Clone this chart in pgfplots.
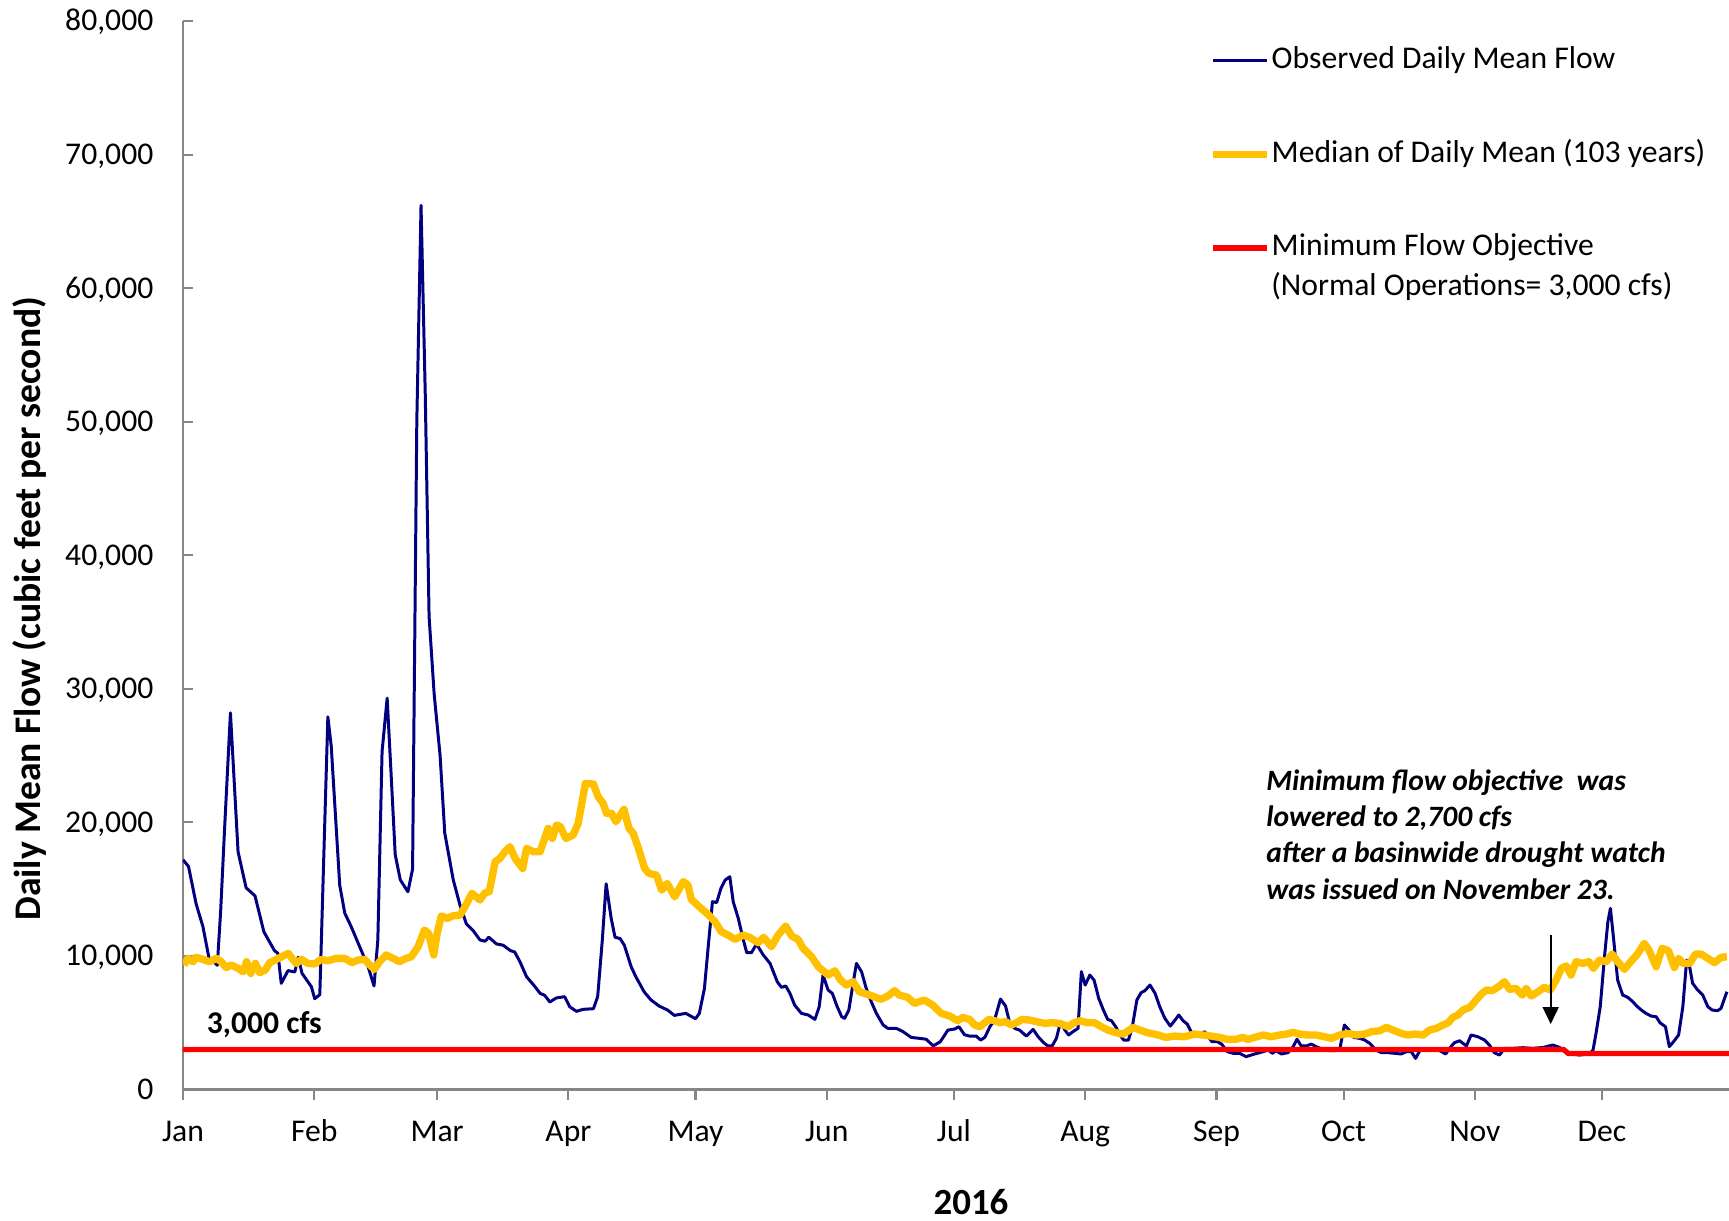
\documentclass[border=0pt]{standalone}
\usepackage{fontspec}
\setmainfont{Carlito}
\usepackage{pgfplots}
\usepackage{pgfplotstable}
\pgfplotsset{compat=1.18}
\usetikzlibrary{arrows.meta}
\definecolor{obsblue}{RGB}{0,0,128}
\definecolor{medyellow}{RGB}{255,192,0}
\definecolor{axgray}{RGB}{134,134,134}

\pgfplotstableread{
day flow
0 17200
1.3 16700
3.1 13900
4.7 12200
6.1 9900
8.1 9300
8.9 13400
9.8 19400
11.2 28200
13 17800
14.9 15100
17 14500
19.1 11800
21.6 10400
22.4 10200
23.2 7950
24.8 8900
26.4 8800
27.2 9900
28.1 8700
30.3 7700
31.1 6800
32.3 7100
33.4 19200
34.2 27900
35 25700
37 15300
38.2 13200
39.7 12200
41.7 10700
43.7 9200
45.1 7750
46 11200
47 25300
48.2 29300
49.2 23200
50.1 17600
51.3 15700
53.1 14800
54.2 16500
55.2 50000
56.2 66200
57.2 52000
58.1 35400
59.3 29600
60.7 25000
61.8 19200
63.8 15700
65.4 13800
66.9 12400
68.5 11900
70.1 11200
71.3 11100
72.2 11400
74.0 10900
75.6 10800
77.3 10400
78.3 10300
79.5 9600
81.1 8450
83.1 7700
84.3 7200
85.4 7050
86.6 6550
88.1 6850
90.1 6950
91.3 6200
92.9 5850
94.4 6000
96.9 6050
97.9 6950
99.0 11200
99.9 15400
101.1 12800
102.0 11400
103.2 11300
104.2 10800
105.8 9200
106.9 8450
108.9 7300
110.5 6700
112.4 6250
114.4 5950
116 5550
118.7 5700
121.0 5300
121.9 5700
123.1 7550
124.0 10700
125.0 14060
126.0 14000
127.0 15060
128.0 15680
129.1 15930
129.9 14060
131.1 12810
132.3 11190
133.1 10240
134.2 10240
135.4 10890
137 10070
138.6 9440
140.3 8070
141.3 7650
142.3 7750
143.3 7200
144.4 6320
146.0 5700
147.6 5580
149.2 5250
150.2 6200
151.1 8570
152.3 7450
153.3 7200
154.3 6320
155.5 5450
156.2 5330
157.2 5950
158.2 7950
159.0 9440
160.2 8820
161.3 7570
162.5 6570
163.7 5700
165.3 4830
166.4 4580
168.4 4580
170 4330
171.9 3900
173.9 3830
175.5 3760
177.1 3260
178.8 3580
180.6 4450
182.2 4530
183.2 4700
184.5 4100
185.7 4000
187.3 4000
188.3 3700
189.3 3900
190.5 4700
191.6 5200
193.0 6770
194.2 6250
195.2 4950
196.4 4570
197.5 4450
199.1 4000
200.7 4500
201.9 3950
203.2 3500
204.2 3260
205.2 3260
206.2 3830
207.2 5080
208.2 4450
209.1 4080
210.1 4330
211.3 4570
212.1 8820
213.0 7820
214.1 8570
215.1 8190
216.2 6820
217.3 5950
218.3 5250
219.2 5150
220.2 4700
221.2 4080
222.1 3700
223.2 3700
224.1 4650
225.2 6700
226.2 7250
227.1 7400
228.3 7820
229.5 7200
230.6 6200
231.8 5330
233.1 4750
234.1 5150
235.1 5580
236.1 5150
237.1 4900
238.0 4330
239.1 3950
240.0 4080
241.2 4330
242.9 3580
244.2 3580
245.2 3400
246.6 2830
248.1 2700
249.5 2700
251.0 2460
253.0 2660
255.0 2830
256.2 2960
257.2 2710
258.1 2910
259.3 2660
260.9 2760
262.1 3210
263.0 3760
264.0 3260
265.2 3260
266.4 3400
267.5 3210
269.1 3010
270.7 2910
272.1 2910
273.1 3010
274.2 4830
275.3 4450
276.4 3900
277.8 3830
279.0 3700
280.2 3450
281.6 2960
282.9 2760
284.5 2760
286.0 2710
287.6 2660
288.8 2830
290.0 2830
291.0 2330
292.1 2960
293.5 3010
295.1 2960
296.7 2910
298.1 2660
299.0 3080
300.2 3510
301.4 3650
303.0 3260
304.1 4080
305.7 3950
307.3 3700
308.5 3300
309.6 2750
310.8 2580
312.0 3080
314.0 3080
316.3 3130
318.7 3080
321.1 3150
323.4 3330
325.0 3150
326.2 2830
327.7 2660
329.7 2580
332.1 2660
332.9 2960
333.6 4200
334.6 6200
335.6 9940
336.4 12560
337.0 13560
337.7 11440
338.7 8200
339.9 7070
341.1 6900
342.3 6570
343.2 6250
344.5 5900
345.4 5700
346.6 5500
347.8 5450
348.7 5000
350.0 4700
350.9 3210
351.9 3580
353.1 4080
354.1 6200
355.0 9690
355.7 9190
356.4 7950
357.6 7450
358.8 7070
360.0 6200
361.0 5950
362.3 5900
363.1 6070
364.5 7320
}\observed

\pgfplotstableread{
day flow
0.2 9320
1.2 9820
2.4 9570
3.1 9900
4.7 9740
6.3 9570
7.9 9820
9.0 9570
10.2 9140
11.4 9320
13 9070
14.2 8820
15 9570
16 8690
17.1 9440
18.1 8750
19.4 8940
20.5 9500
22 9740
23.6 9990
24.9 10190
26 9690
26.8 9440
27.9 9740
29.5 9440
31.1 9400
32.6 9740
34.2 9640
36.2 9820
38.2 9820
39.9 9500
41.3 9690
42.9 9740
44.1 9320
45.2 9000
46.4 9570
48 10070
49.6 9820
51.1 9570
52.7 9820
53.9 9940
55.5 10690
57.0 11940
58 11690
59.2 10070
60 11690
61 13000
62.4 12810
63.8 13010
65.4 13060
66.6 13690
68.2 14690
70.1 14190
71.3 14730
72.3 14810
73.7 17050
74.8 17300
76.0 17800
77.2 18180
78.4 17300
80.2 16550
81.1 18050
82.7 17800
84.3 17800
86.2 19550
87.2 18800
88.2 19800
89.1 19670
90.4 18800
92.1 19050
93.3 19920
95.0 22920
96.9 22870
98.0 21920
99.2 21420
100 20670
101.2 20670
102.2 20050
104.1 20970
105.3 19550
106.3 19170
107.4 18180
109.0 16550
110.0 16180
111.8 16050
113.0 14930
114.3 15430
116.1 14430
118.1 15560
119.2 15310
120.0 14240
122.0 13650
124.0 13100
125.6 12560
127.1 11810
128.7 11560
130.3 11240
132.3 11560
133.8 11390
135.8 10990
137.1 11390
138.9 10690
140.5 11560
142.3 12240
143.7 11490
145.2 11240
146.4 10570
148.4 9940
150.0 9190
152.3 8570
153.9 8890
155.1 8250
156.6 7820
158.2 8070
159.7 7320
162.1 7070
164.8 6750
166.4 7000
168.0 7400
169.1 7070
171.1 6900
172.7 6450
175.0 6700
177.0 6320
179.0 5700
181.0 5500
182.9 5150
184.1 5400
185.7 5250
186.9 4830
188.1 4700
189.3 5000
190.2 5250
191.6 5150
192.8 5000
194.2 5080
195.6 4830
196.8 5000
198.1 5250
199.9 5200
201.5 5080
203.5 4950
205.0 5000
207.0 4950
209.0 4700
210.1 4950
211.7 5150
213.6 5000
215.2 5000
216.8 4700
218.4 4450
220.3 4250
221.9 4150
222.9 4330
224.3 4650
225.9 4450
227.8 4250
230.2 4080
232.1 3900
234.1 4000
236.4 3950
238.8 4150
240.8 4080
242.7 4000
244.7 3900
246.6 3750
248.5 3750
250.2 3900
251.4 3750
253.0 3900
255.0 4080
256.9 3950
258.9 4080
260.5 4150
262.1 4280
263.6 4150
265.6 4080
267.5 4080
269.5 3950
271.1 3830
273.1 4080
275.0 4200
277.0 4080
279.0 4150
280.6 4330
282.5 4400
284.1 4650
285.7 4450
287.6 4200
289.2 4080
290.8 4150
292.8 4080
294.3 4450
295.9 4580
297.5 4830
298.7 5000
299.8 5400
301.0 5580
302.2 5950
303.8 6150
305.3 6700
306.7 7200
307.8 7450
309.1 7400
310.6 7700
312.0 8070
313.2 7500
314.7 7570
316.2 7070
317.1 7570
318.3 7000
319.9 7320
321.4 7650
322.8 7450
324.2 8200
325.4 9070
326.6 9250
327.7 8570
328.9 9570
330.5 9440
331.9 9570
333.0 9070
334.4 9690
336.0 9570
337.4 10140
338.7 9570
340.3 9000
341.8 9570
343.4 10140
345.0 10940
346.1 10440
347.8 9190
349.2 10570
350.7 10390
352.1 9140
353.1 9820
354.2 9440
355.7 9440
357.1 10140
358.4 10140
360.0 9820
361.6 9500
363.1 9890
364.5 9940
}\median

\pgfplotstableread{
day flow
0 3000
326 3000
327 2700
365 2700
}\minflow

\begin{document}
\begin{tikzpicture}
\path[use as bounding box] (-18.3mm,-13.15mm) rectangle (154.6mm,108.95mm);
\begin{axis}[
  at={(0,0)}, anchor=south west,
  scale only axis, width=154.6mm, height=106.85mm,
  xmin=0, xmax=365, ymin=0, ymax=80000,
  axis lines*=left,
  axis line style={axgray, line width=0.6pt},
  every tick/.style={axgray, line width=0.6pt},
  major tick length=1mm,
  xtick align=outside, ytick align=inside,
  xtick={0,31,60,91,121,152,182,213,244,274,305,335},
  xticklabels={Jan,Feb,Mar,Apr,May,Jun,Jul,Aug,Sep,Oct,Nov,Dec},
  ytick={0,10000,20000,30000,40000,50000,60000,70000,80000},
  scaled y ticks=false,
  /pgf/number format/1000 sep={,},
  /pgf/number format/assume math mode=true,
  tick label style={font=\fontsize{9}{11}\selectfont, inner sep=0pt},
  xticklabel style={anchor=base, yshift=-4.2mm},
  yticklabel style={anchor=base east, xshift=-2.9mm, yshift=-1.0mm},
  xlabel={2016},
  xlabel style={at={(axis description cs:0.5097,-0.1053)}, anchor=center, inner sep=0pt, font=\bfseries\fontsize{10.5}{12}\selectfont},
  ylabel={Daily Mean Flow (cubic feet per second)},
  ylabel style={at={(axis description cs:-0.099,0.45)}, anchor=center, inner sep=0pt, font=\bfseries\fontsize{10.7}{12}\selectfont},
  legend cell align=left,
  legend image code/.code={\draw[#1] (0mm,0mm) -- (5.35mm,0mm);},
  legend style={at={(axis description cs:0.6636,0.9794)}, anchor=north west, draw=none, fill=none, inner sep=0pt, row sep=5.91mm,
    font=\fontsize{9}{11}\selectfont,
    nodes={inner sep=0.12mm, text height=2.4mm, text depth=0.8mm}},
]
\addplot[obsblue, line width=0.85pt, line join=round] table[x=day, y=flow] {\observed};
\addlegendentry{Observed Daily Mean Flow}
\addplot[medyellow, line width=2.1pt, line join=round] table[x=day, y=flow] {\median};
\addlegendentry{Median of Daily Mean (103 years)}
\addplot[red, line width=1.5pt, line join=round] table[x=day, y=flow] {\minflow};
\addlegendentry{Minimum Flow Objective}

\node[anchor=west, inner sep=0pt, font=\fontsize{9}{11}\selectfont] at (axis description cs:0.7035,0.7512) {(Normal Operations= 3,000 cfs)};
\node[anchor=center, inner sep=0pt, font=\bfseries\fontsize{9}{11}\selectfont] at (axis cs:19.2,4880) {3,000 cfs};
\node[anchor=west, inner sep=0pt, align=left, font=\bfseries\itshape\fontsize{8.4}{10.3}\selectfont] at (axis cs:255.6,19087)
  {Minimum flow objective\ \ was\\lowered to 2,700 cfs\\after a basinwide drought watch\\was issued on November 23.};
\draw[black, line width=0.5pt, -{Triangle[length=1.7mm, width=1.6mm]}] (axis cs:322.9,11560) -- (axis cs:322.9,4900);
\end{axis}
\end{tikzpicture}
\end{document}
